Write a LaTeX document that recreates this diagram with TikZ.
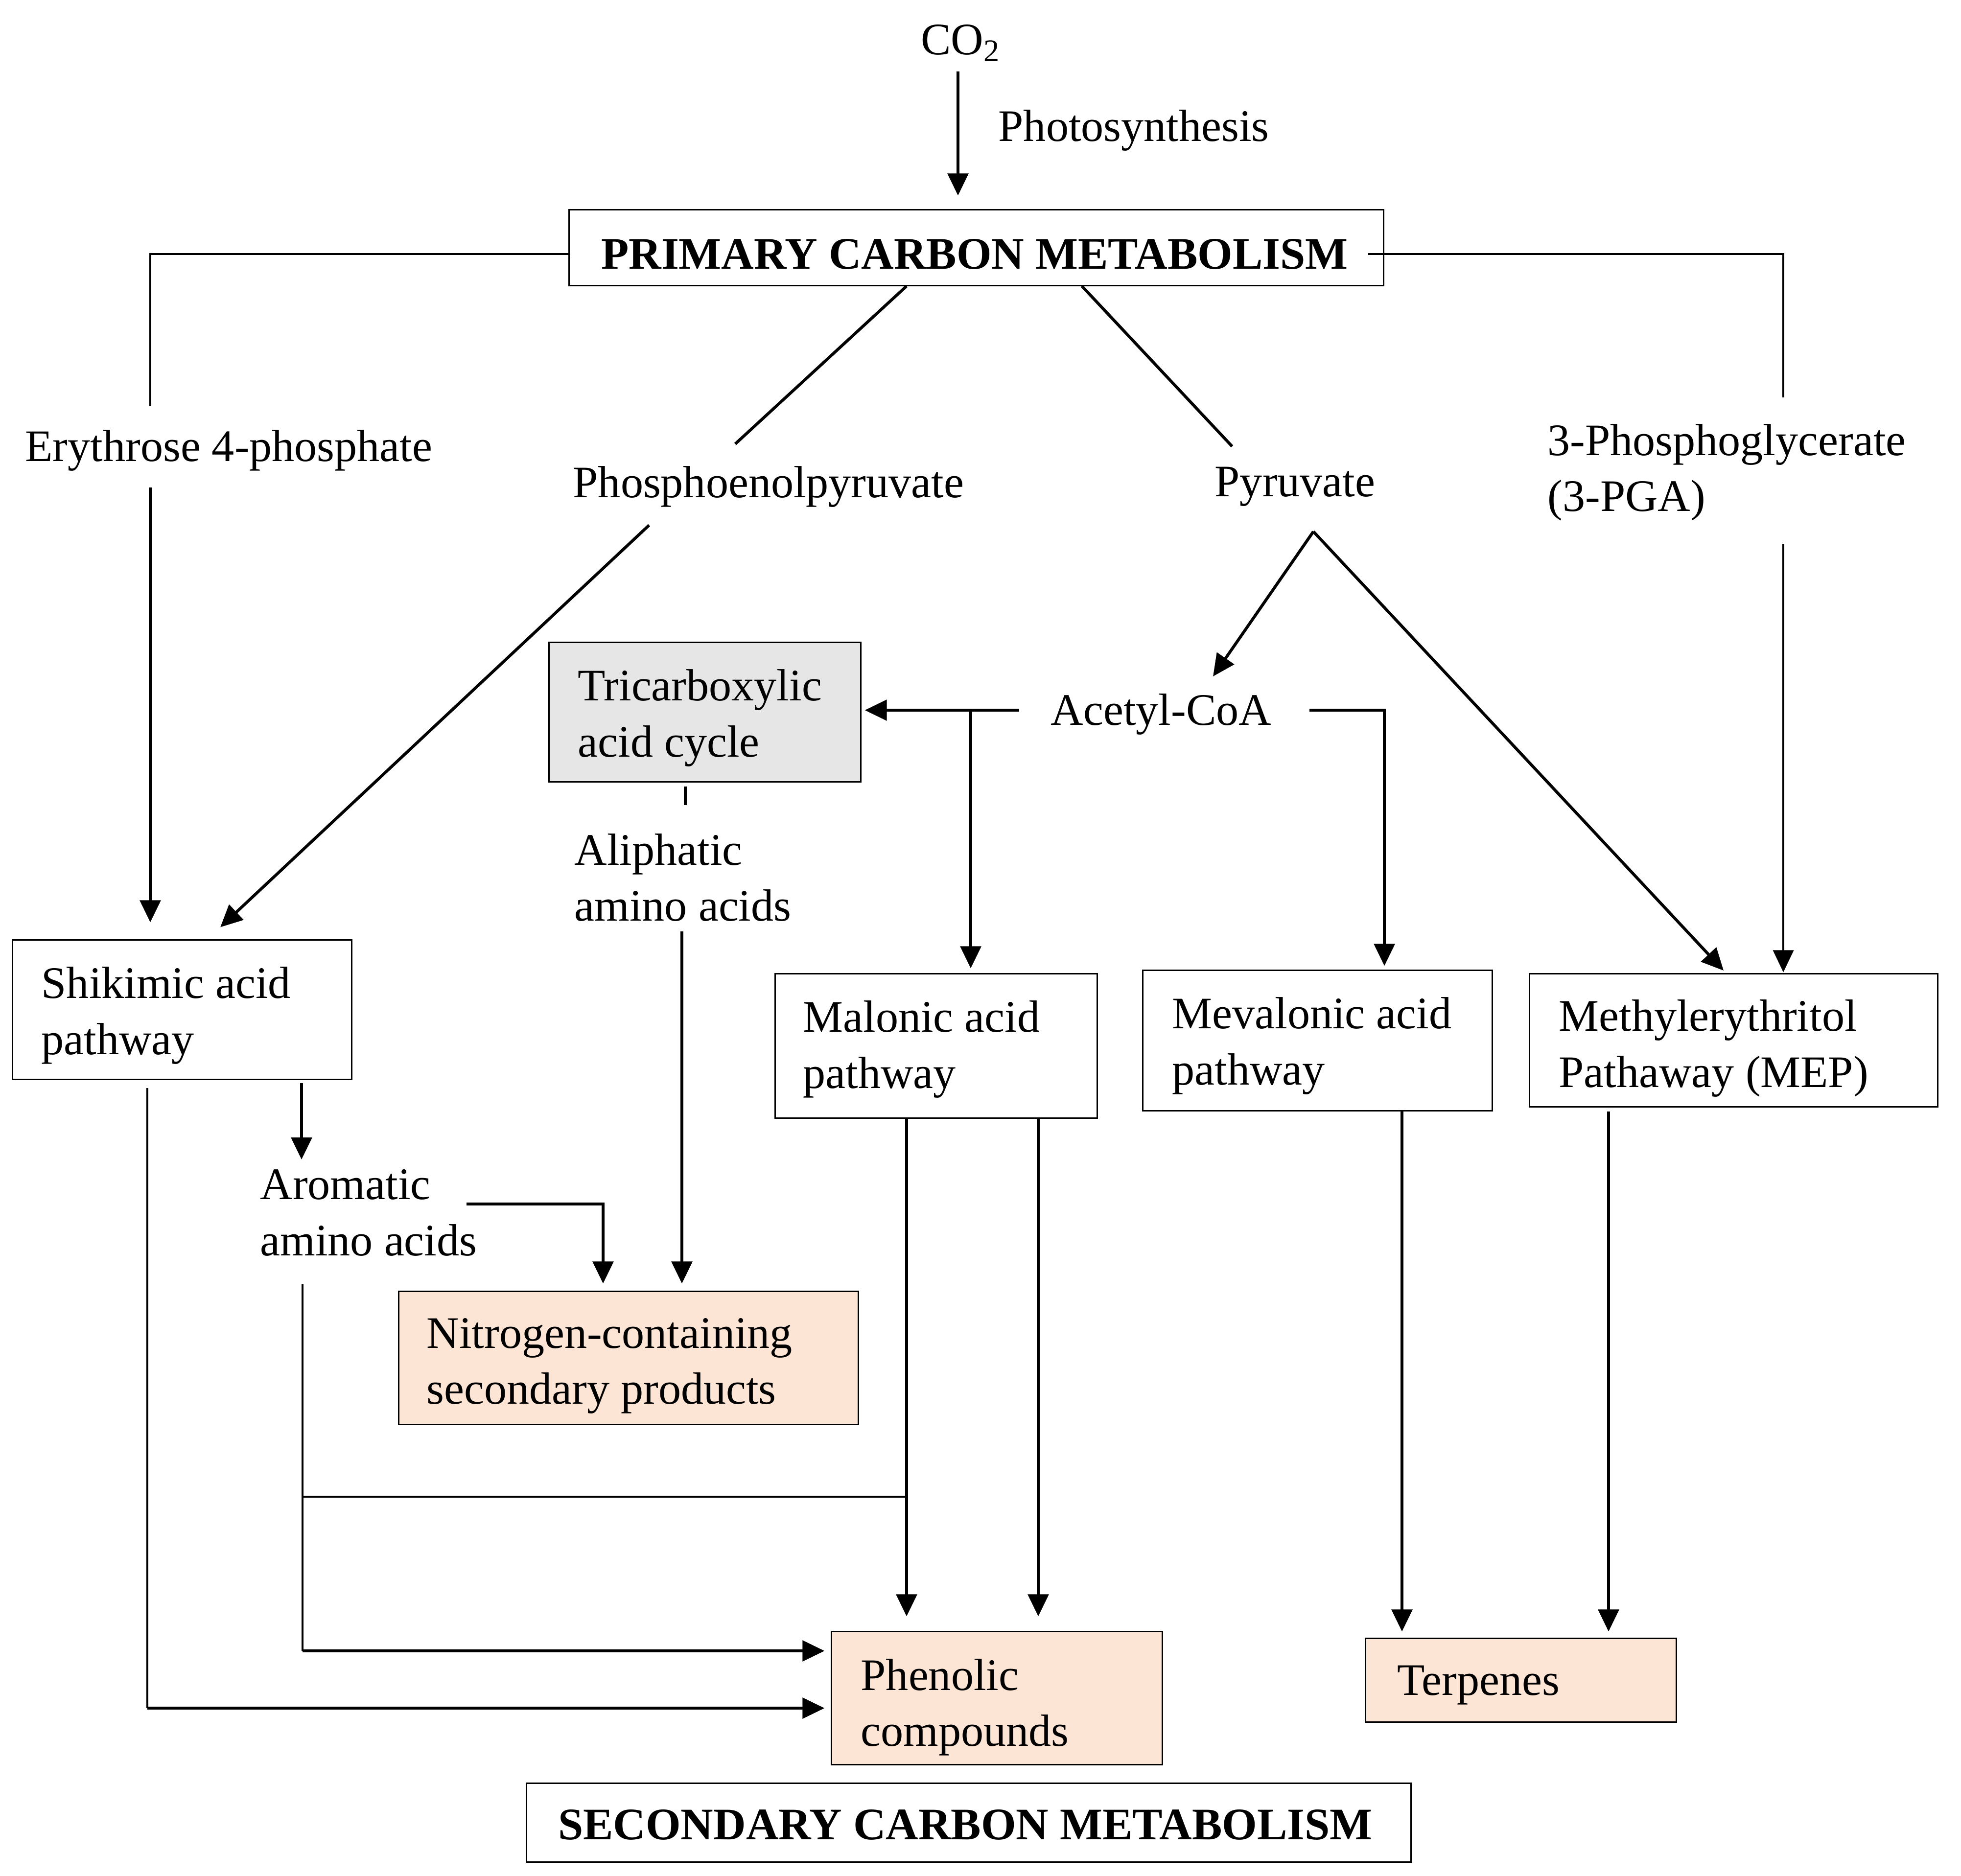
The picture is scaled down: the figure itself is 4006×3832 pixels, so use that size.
\documentclass[tikz,border=0pt]{standalone}
\usepackage{fontspec}
\setmainfont{Liberation Serif}
\usetikzlibrary{arrows.meta}
\definecolor{peach}{RGB}{253,229,214}
\definecolor{tcagray}{RGB}{230,230,230}
\begin{document}
\begin{tikzpicture}[x=0.01cm,y=-0.01cm,
  every node/.style={font=\fontsize{26.2}{32.5}\selectfont, inner sep=0pt},
  txt/.style={anchor=west, align=left},
  boldtxt/.style={font=\fontsize{26.2}{32.5}\selectfont\bfseries},
  box/.style={draw, line width=0.03cm, inner sep=0pt},
  thk/.style={line width=0.06cm},
  thn/.style={line width=0.035cm},
  arr/.style={thk, -{Triangle[length=0.45cm,width=0.42cm]}},
]
\useasboundingbox[fill=white] (0,0) rectangle (4006,3832);

% ---- boxes ----
\node[box, minimum width=16.63cm, minimum height=1.54cm] (pcm) at (1994.5,506) {};
\node[box, fill=tcagray, minimum width=6.36cm, minimum height=2.84cm] (tca) at (1440,1455) {};
\node[box, minimum width=6.92cm, minimum height=2.84cm] (shik) at (372,2063) {};
\node[box, minimum width=6.57cm, minimum height=2.94cm] (mal) at (1912.5,2137) {};
\node[box, minimum width=7.13cm, minimum height=2.86cm] (mev) at (2691.5,2126) {};
\node[box, minimum width=8.33cm, minimum height=2.71cm] (mep) at (3541.5,2125.5) {};
\node[box, fill=peach, minimum width=9.38cm, minimum height=2.71cm] (nit) at (1284,2774.5) {};
\node[box, fill=peach, minimum width=6.75cm, minimum height=2.71cm] (phen) at (2036.5,3469.5) {};
\node[box, fill=peach, minimum width=6.34cm, minimum height=1.71cm] (terp) at (3107,3432.5) {};
\node[box, minimum width=18.06cm, minimum height=1.61cm] (scm) at (1979,3723.5) {};

% ---- texts ----
\node (co2) at (1962,88) {CO\textsubscript{2}};
\node[txt] (photo) at (2039,266) {Photosynthesis};
\node[boldtxt] (pcmt) at (1991,519) {PRIMARY CARBON METABOLISM};
\node[boldtxt] (scmt) at (1972,3728) {SECONDARY CARBON METABOLISM};
\node[txt] (e4p) at (51,920) {Erythrose 4-phosphate};
\node[txt] (pep) at (1170,994) {Phosphoenolpyruvate};
\node[txt] (pyr) at (2481,994) {Pyruvate};
\node[txt] (pga) at (3161,965) {3-Phosphoglycerate\\(3-PGA)};
\node[txt] (acoa) at (2146,1459) {Acetyl-CoA};
\node[txt] (ali) at (1173,1793) {Aliphatic\\amino acids};
\node[txt] (aro) at (531,2478) {Aromatic\\amino acids};
\node[txt] (tcat) at (1180,1467) {Tricarboxylic\\acid cycle};
\node[txt] (shikt) at (84,2075) {Shikimic acid\\pathway};
\node[txt] (malt) at (1640,2144) {Malonic acid\\pathway};
\node[txt] (mevt) at (2394,2137) {Mevalonic acid\\pathway};
\node[txt] (mept) at (3184,2142) {Methylerythritol\\Pathaway (MEP)};
\node[txt] (nitt) at (871,2791) {Nitrogen-containing\\secondary products};
\node[txt] (phent) at (1758,3488) {Phenolic\\compounds};
\node[txt] (terpt) at (2854,3443) {Terpenes};

% ---- waypoints ----
\coordinate (co2out) at (1957,146);
\coordinate (e4pin) at (307,830);
\coordinate (e4pout) at (307,996);
\coordinate (pgain) at (3643,812);
\coordinate (pgaout) at (3643,1111);
\coordinate (pepin) at (1502,907);
\coordinate (pepout) at (1326,1073);
\coordinate (pyrin) at (2517,912);
\coordinate (pyrout) at (2683,1086);
\coordinate (acoain) at (2478,1382);
\coordinate (mepin) at (3521,1983);
\coordinate (acoaL) at (2082,1451);
\coordinate (acoaR) at (2675,1451);
\coordinate (br) at (1983,1451);
\coordinate (aliout) at (1393,1903);
\coordinate (shikout) at (616,2213);
\coordinate (aroout) at (953,2460);
\coordinate (shikdown) at (301,2223);
\coordinate (c1) at (301,3490);
\coordinate (arodown) at (618,2624);
\coordinate (c2) at (618,3373);
\coordinate (c3) at (618,3058);
\coordinate (malA) at (1852,2284);
\coordinate (malB) at (2121,2284);
\coordinate (mevout) at (2864,2269);
\coordinate (mepout) at (3286,2271);

% ---- connectors ----
\draw[arr, shorten >=0.28cm] (co2out) -- (co2out |- pcm.north);
\draw[thn] ([yshift=-0.13cm]pcm.west) -| (e4pin);
\draw[thn] ([xshift=-0.33cm,yshift=-0.13cm]pcm.east) -| (pgain);
\draw[arr, shorten >=0.35cm] (e4pout) -- (e4pout |- shik.north);
\draw[thk] ([xshift=-1.425cm]pcm.south) -- (pepin);
\draw[arr] (pepout) -- ([xshift=0.78cm,yshift=0.25cm]shik.north);
\draw[thk] ([xshift=2.155cm]pcm.south) -- (pyrin);
\draw[arr] (pyrout) -- (acoain);
\draw[arr] (pyrout) -- (mepin);
\draw[thn, -{Triangle[length=0.45cm,width=0.42cm]}, shorten >=0.02cm] (pgaout) -- (pgaout |- mep.north);
\draw[arr, shorten >=0.07cm] (acoaL) -- (acoaL -| tca.east);
\draw[arr, shorten >=0.1cm] (br) -- (br |- mal.north);
\draw[arr, shorten >=0.08cm] (acoaR) -| ([xshift=1.365cm]mev.north);
\draw[thk] ([xshift=-0.4cm,yshift=-0.08cm]tca.south) -- ++(0,38);
\draw[arr, shorten >=0.15cm] (aliout) -- (aliout |- nit.north);
\draw[arr] (shikout) -- ++(0,156);
\draw[arr, shorten >=0.15cm] (aroout) -| ([xshift=-0.52cm]nit.north);
\draw[thn] (shikdown) -- (c1);
\draw[arr, shorten >=0.13cm] (c1) -- (c1 -| phen.west);
\draw[thn] (arodown) -- (c2);
\draw[thn] (c3) -- (c3 -| malA);
\draw[arr, shorten >=0.13cm] (c2) -- (c2 -| phen.west);
\draw[arr, shorten >=0.3cm] (malA) -- (malA |- phen.north);
\draw[arr, shorten >=0.3cm] (malB) -- (malB |- phen.north);
\draw[arr, shorten >=0.12cm] (mevout) -- (mevout |- terp.north);
\draw[arr, shorten >=0.12cm] (mepout) -- (mepout |- terp.north);
\end{tikzpicture}
\end{document}
